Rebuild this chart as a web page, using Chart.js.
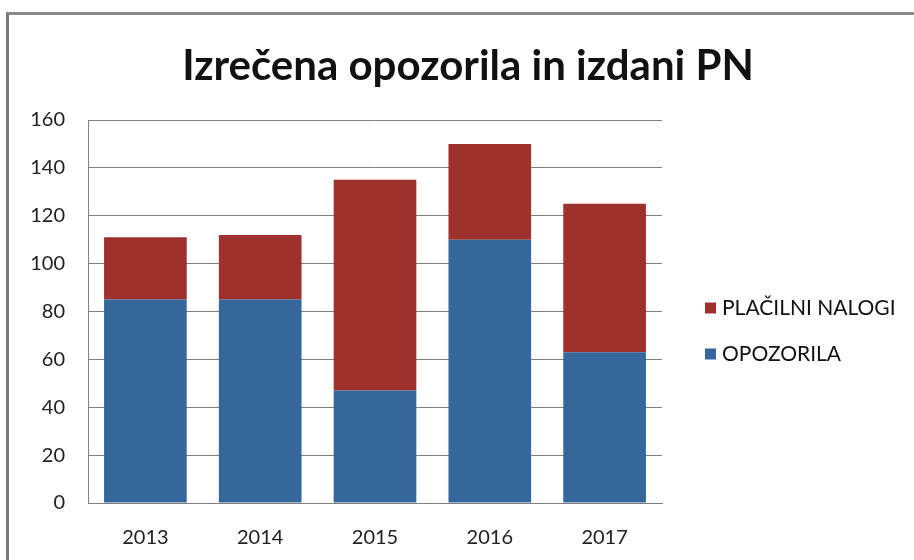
<!DOCTYPE html>
<html>
<head>
<meta charset="utf-8">
<script src="https://cdn.jsdelivr.net/npm/chart.js@4/dist/chart.umd.min.js"></script>
<style>
    body { margin: 0; background: #fff; }
    #okvir {
        position: absolute;
        left: 0; top: 0;
        width: 914px; height: 560px;
    }
    #rob {
        position: absolute;
        left: 6px; top: 12px;
        width: 920px; height: 560px;
        border-left: 3px solid #7a7a7a;
        border-top: 3px solid #8a8a8a;
    }
    canvas { position: absolute; left: 0; top: 0; }
</style>
</head>
<body>
<div id="okvir">
    <div id="rob"></div>
    <canvas id="graf" width="914" height="560"></canvas>
</div>
<script>
const naslov = 'Izrečena opozorila in izdani PN';
const leta = ['2013', '2014', '2015', '2016', '2017'];
const opozorila = [85, 85, 47, 110, 63];
const placilniNalogi = [26, 27, 88, 40, 62];
const yTicks = [0, 20, 40, 60, 80, 100, 120, 140, 160];

const modra = '#35679d';
const rdeca = '#9e302d';
const pisava = 'Lato, Calibri, sans-serif';

// naslov in legenda na fiksnih mestih kot v excelu
const tekstPlugin = {
    id: 'tekstPlugin',
    afterDraw(chart) {
        const ctx = chart.ctx;
        const area = chart.chartArea;
        ctx.save();
        ctx.fillStyle = '#111';
        ctx.font = 'bold 42px ' + pisava;
        ctx.textAlign = 'center';
        ctx.textBaseline = 'middle';
        ctx.fillText(naslov, 468, 66);

        const sredina = (area.top + area.bottom) / 2;
        const postavke = [
            { tekst: 'PLAČILNI NALOGI', barva: rdeca, y: sredina - 4 },
            { tekst: 'OPOZORILA', barva: modra, y: sredina + 42 }
        ];
        ctx.font = '21px ' + pisava;
        ctx.textAlign = 'left';
        postavke.forEach(p => {
            ctx.fillStyle = p.barva;
            ctx.fillRect(area.right + 43, p.y - 5, 11, 11);
            ctx.fillStyle = '#111';
            ctx.fillText(p.tekst, area.right + 60, p.y + 1);
        });
        ctx.restore();
    }
};

const ctx = document.getElementById('graf').getContext('2d');
new Chart(ctx, {
    type: 'bar',
    data: {
        labels: leta,
        datasets: [
            { label: 'OPOZORILA', data: opozorila, backgroundColor: modra },
            { label: 'PLAČILNI NALOGI', data: placilniNalogi, backgroundColor: rdeca }
        ]
    },
    options: {
        responsive: false,
        animation: false,
        layout: { padding: { left: 0, right: 252, top: 120, bottom: 0 } },
        plugins: {
            legend: { display: false },
            tooltip: { enabled: false }
        },
        scales: {
            x: {
                stacked: true,
                barPercentage: 0.65,
                categoryPercentage: 1,
                afterFit: axis => { axis.height = 57; },
                grid: { display: false, drawTicks: false },
                border: { display: true, color: '#808080', width: 1 },
                ticks: { color: '#222', font: { family: pisava, size: 20 }, padding: 23 }
            },
            y: {
                stacked: true,
                min: 0,
                max: 160,
                afterBuildTicks: axis => { axis.ticks = yTicks.map(v => ({ value: v })); },
                afterFit: axis => { axis.width = 88; },
                grid: { color: '#808080', drawTicks: false },
                border: { display: true, color: '#808080', width: 1 },
                ticks: { color: '#222', font: { family: pisava, size: 20 }, padding: 23 }
            }
        }
    },
    plugins: [tekstPlugin]
});
</script>
</body>
</html>
